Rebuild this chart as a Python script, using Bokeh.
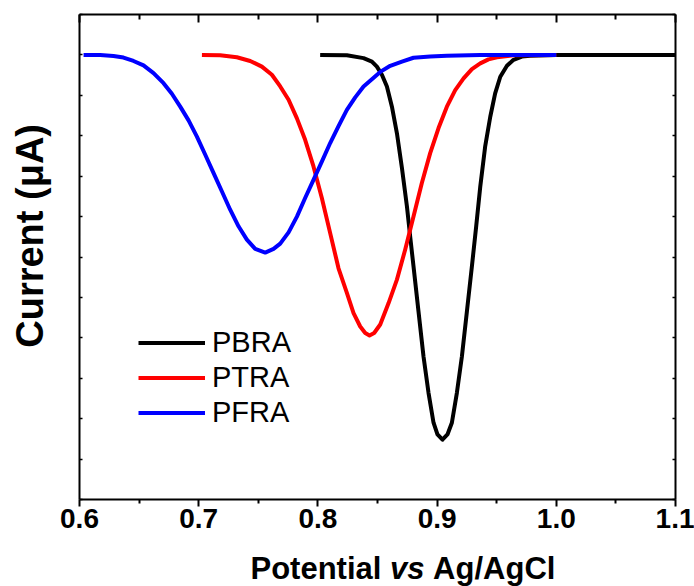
from bokeh.plotting import figure
from bokeh.layouts import column
from bokeh.core.properties import value
from bokeh.models import (Range1d, LinearAxis, FixedTicker, Legend, LegendItem,
                          CustomJSTickFormatter, ColumnDataSource)
from bokeh.embed import file_html
from bokeh.resources import INLINE

# ---------------- data ----------------
potential_pbra = [0.8019, 0.8243, 0.8383, 0.8453, 0.8495, 0.8537, 0.8579, 0.8621,
                  0.8663, 0.8705, 0.8747, 0.8774, 0.8802, 0.8844, 0.8886, 0.8928,
                  0.8970, 0.9003, 0.9045, 0.9087, 0.9124, 0.9166, 0.9208, 0.9250,
                  0.9292, 0.9328, 0.9362, 0.9403, 0.9446, 0.9487, 0.9530, 0.9586,
                  0.9641, 0.9711, 0.978, 1.0, 1.1]
current_pbra = [0.0, -0.008, -0.08, -0.165, -0.29, -0.49, -0.78, -1.28,
                -1.94, -2.80, -3.75, -4.49, -5.23, -6.35, -7.46, -8.36,
                -9.10, -9.39, -9.52, -9.39, -9.10, -8.36, -7.46, -6.35,
                -5.23, -4.24, -3.26, -2.27, -1.53, -0.95, -0.54, -0.27,
                -0.12, -0.04, -0.02, 0.0, 0.0]

potential_ptra = [0.7027, 0.7180, 0.7320, 0.7432, 0.7530, 0.7614, 0.7684, 0.7754,
                  0.7824, 0.7893, 0.7963, 0.8033, 0.8103, 0.8173, 0.8243, 0.8299,
                  0.8355, 0.8397, 0.8433, 0.8472, 0.8523, 0.8593, 0.8663, 0.8732,
                  0.8802, 0.8872, 0.8942, 0.9012, 0.9082, 0.9152, 0.9222, 0.9292,
                  0.9362, 0.9431, 0.9502, 0.964, 1.0]
current_ptra = [0.0, -0.008, -0.058, -0.15, -0.29, -0.49, -0.78, -1.11,
                -1.57, -2.10, -2.76, -3.54, -4.41, -5.28, -5.89, -6.39,
                -6.72, -6.88, -6.94, -6.88, -6.67, -6.14, -5.56, -4.82,
                -4.00, -3.17, -2.43, -1.81, -1.28, -0.87, -0.58, -0.35,
                -0.21, -0.11, -0.06, -0.01, 0.0]

potential_pfra = [0.6034, 0.6174, 0.6285, 0.6369, 0.6453, 0.6537, 0.6621, 0.6705,
                  0.6775, 0.6845, 0.6915, 0.6985, 0.7055, 0.7124, 0.7195, 0.7264,
                  0.7334, 0.7404, 0.7474, 0.7558, 0.7628, 0.7684, 0.7754, 0.7824,
                  0.7893, 0.7963, 0.8033, 0.8103, 0.8173, 0.8243, 0.8313, 0.8383,
                  0.8453, 0.8523, 0.8607, 0.8705, 0.8802, 0.8942, 0.9082, 0.9362,
                  1.0]
current_pfra = [0.0, 0.0, -0.025, -0.066, -0.15, -0.26, -0.45, -0.70,
                -0.96, -1.28, -1.62, -2.02, -2.47, -2.92, -3.38, -3.83,
                -4.24, -4.57, -4.80, -4.89, -4.80, -4.67, -4.39, -4.00,
                -3.54, -3.09, -2.64, -2.18, -1.76, -1.36, -1.05, -0.78,
                -0.60, -0.42, -0.27, -0.165, -0.07, -0.04, -0.02, 0.0,
                0.0]

series_names = ["PBRA", "PTRA", "PFRA"]
x_ticks = [0.6, 0.7, 0.8, 0.9, 1.0, 1.1]
x_minor_ticks = [0.65, 0.75, 0.85, 0.95, 1.05]
y_ticks = [-11, -10, -9, -8, -7, -6, -5, -4, -3, -2, -1, 0, 1]
y_title = "Current (\u03bcA)"
x_title_parts = ["Potential", "vs", "Ag/AgCl"]
x_title_styles = ["bold", "bold italic", "bold"]

# ---------------- main figure ----------------
FONT = "Liberation Sans"
BL, BR = 79, 19
p = figure(width=694, height=546, output_backend="svg", toolbar_location=None,
           x_range=Range1d(0.6, 1.1), y_range=Range1d(-11, 1),
           min_border_left=BL, min_border_right=BR, min_border_top=14,
           min_border_bottom=47)
p.outline_line_color = None
p.grid.visible = False
p.background_fill_color = "white"
p.border_fill_color = "white"

empty_fmt = CustomJSTickFormatter(code="return ''")

# bottom axis
xa = p.xaxis[0]
xa.ticker = FixedTicker(ticks=x_ticks, minor_ticks=x_minor_ticks)
xa.formatter = CustomJSTickFormatter(code="return tick.toFixed(1)")
xa.major_label_text_font = FONT
xa.major_label_text_font_style = "bold"
xa.major_label_text_font_size = "28px"
xa.major_label_text_color = "black"
xa.major_label_standoff = 2
xa.major_tick_in = 0
xa.major_tick_out = 7
xa.minor_tick_in = 0
xa.minor_tick_out = 4
xa.axis_line_width = 2
xa.major_tick_line_width = 2
xa.minor_tick_line_width = 2
xa.axis_line_color = "black"
xa.major_tick_line_color = "black"
xa.minor_tick_line_color = "black"

# left axis
ya = p.yaxis[0]
ya.ticker = FixedTicker(ticks=y_ticks, minor_ticks=[])
ya.formatter = empty_fmt
ya.major_label_text_font_size = "0px"
ya.major_tick_in = 3
ya.major_tick_out = 0
ya.minor_tick_in = 0
ya.minor_tick_out = 0
ya.axis_line_width = 2
ya.major_tick_line_width = 1.5
ya.axis_line_color = "black"
ya.major_tick_line_color = "black"
ya.axis_label = "\u00a0\u00a0\u00a0\u00a0" + y_title
ya.axis_label_text_font = FONT
ya.axis_label_text_font_style = "bold"
ya.axis_label_text_font_size = "38px"
ya.axis_label_text_color = "black"
ya.axis_label_standoff = 29

# top axis
ta = LinearAxis(ticker=FixedTicker(ticks=x_ticks, minor_ticks=x_minor_ticks),
                formatter=empty_fmt, major_label_text_font_size="0px",
                major_tick_in=8, major_tick_out=0, minor_tick_in=5, minor_tick_out=0,
                axis_line_width=2, major_tick_line_width=2, minor_tick_line_width=2,
                axis_line_color="black", major_tick_line_color="black",
                minor_tick_line_color="black")
p.add_layout(ta, "above")

# right axis
ra = LinearAxis(ticker=FixedTicker(ticks=y_ticks, minor_ticks=[]),
                formatter=empty_fmt, major_label_text_font_size="0px",
                major_tick_in=3, major_tick_out=0, minor_tick_in=0, minor_tick_out=0,
                axis_line_width=2, major_tick_line_width=1.5,
                axis_line_color="black", major_tick_line_color="black")
p.add_layout(ra, "right")

# curves
r_b = p.line(potential_pbra, current_pbra, line_color="#000000", line_width=4,
             line_join="round")
r_r = p.line(potential_ptra, current_ptra, line_color="#FF0000", line_width=4,
             line_join="round")
r_f = p.line(potential_pfra, current_pfra, line_color="#0000FF", line_width=4,
             line_join="round")

legend = Legend(items=[LegendItem(label=series_names[0], renderers=[r_b]),
                       LegendItem(label=series_names[1], renderers=[r_r]),
                       LegendItem(label=series_names[2], renderers=[r_f])],
                location=(59, 69), orientation="vertical",
                border_line_color=None, background_fill_alpha=0,
                padding=0, margin=0, spacing=0,
                glyph_width=67, glyph_height=35, label_height=35,
                label_standoff=7, label_text_font=FONT,
                label_text_font_size="29px", label_text_color="black")
p.add_layout(legend)

# ---------------- x-axis title strip (mixed bold / bold italic) ----------------
# its frame lines up with the main frame; x is measured in page pixels
S = 31
x_start = 250
em = [4.223 + 0.278, 1.112 + 0.278]
xs = [x_start, x_start + em[0] * S, x_start + (em[0] + em[1]) * S]
title_src = ColumnDataSource(dict(x=xs, y=[18, 18, 18], text=x_title_parts,
                                  style=x_title_styles))
p2 = figure(width=694, height=40, output_backend="svg", toolbar_location=None,
            x_range=Range1d(BL, 694 - BR), y_range=Range1d(0, 40),
            x_axis_location=None, y_axis_location=None,
            min_border_left=BL, min_border_right=BR, min_border_top=0,
            min_border_bottom=0)
p2.title.visible = False
p2.title.standoff = 0
p2.title.text_font_size = "0px"
p2.outline_line_color = None
p2.grid.visible = False
p2.background_fill_color = "white"
p2.border_fill_color = "white"
p2.text(x="x", y="y", text="text", source=title_src,
        text_font_style="style", text_font=value(FONT),
        text_font_size=value(f"{S}px"), text_color="black",
        text_baseline="middle", text_align="left")

layout = column(p, p2, spacing=0)
open("out.html", "w").write(file_html(layout, INLINE))
